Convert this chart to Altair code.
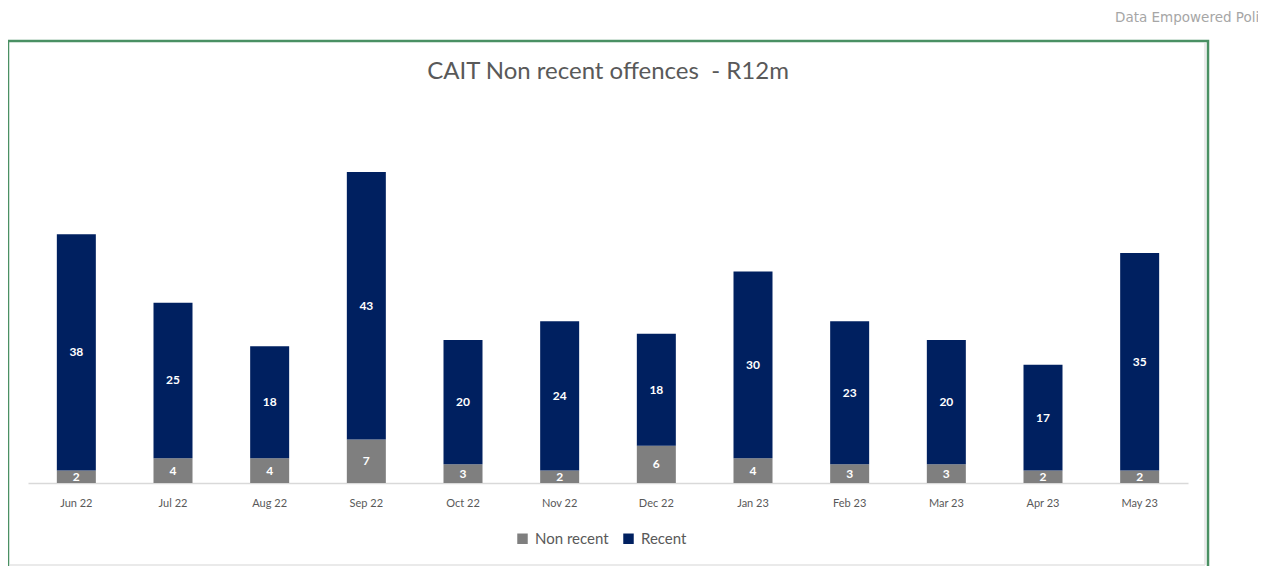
import altair as alt
import pandas as pd

months = ["Jun 22", "Jul 22", "Aug 22", "Sep 22", "Oct 22", "Nov 22",
          "Dec 22", "Jan 23", "Feb 23", "Mar 23", "Apr 23", "May 23"]
non_recent = [2, 4, 4, 7, 3, 2, 6, 4, 3, 3, 2, 2]
recent = [38, 25, 18, 43, 20, 24, 18, 30, 23, 20, 17, 35]
series = ["Non recent", "Recent"]
colors = ["#7f7f7f", "#002060"]

rows = []
for m, a, b in zip(months, non_recent, recent):
    rows.append({"month": m, "series": "Non recent", "order": 0, "value": a})
    rows.append({"month": m, "series": "Recent", "order": 1, "value": b})
df = pd.DataFrame(rows)

W, H = 1160, 342

x = alt.X("month:N", sort=months, title=None,
          scale=alt.Scale(paddingInner=0.6, paddingOuter=0.3),
          axis=alt.Axis(labelAngle=0, ticks=False, domainColor="#d9d9d9",
                        domainWidth=1.5, labelColor="#595959", labelFont="Lato",
                        labelFontSize=11, labelPadding=14, grid=False))
y = alt.Y("value:Q", stack="zero", title=None,
          scale=alt.Scale(domain=[0, 55], nice=False), axis=None)

base = alt.Chart(df)

bars = base.mark_bar(size=39).encode(
    x=x, y=y,
    color=alt.Color("series:N", sort=series,
                    scale=alt.Scale(domain=series, range=colors),
                    legend=alt.Legend(title=None, orient="none", direction="horizontal",
                                      legendX=487, legendY=390, symbolType="square",
                                      symbolSize=110, symbolStrokeWidth=0,
                                      labelFont="Lato", labelFontSize=15,
                                      labelColor="#595959", columnPadding=12,
                                      labelOffset=5)),
    order=alt.Order("order:Q"),
)

labels = base.mark_text(color="white", fontWeight="bold", fontSize=12,
                        font="Lato").encode(
    x=x,
    y=alt.Y("value:Q", stack="zero", bandPosition=0.5,
            scale=alt.Scale(domain=[0, 55], nice=False), axis=None),
    text=alt.Text("value:Q"),
    order=alt.Order("order:Q"),
)

frame = pd.DataFrame({"a": [0]})

inner_v = alt.Chart(frame).mark_rule(color="#e3e3e3", strokeWidth=1.5, clip=False).encode(
    x=alt.value(1177), y=alt.value(-98), y2=alt.value(424))
inner_h = alt.Chart(frame).mark_rule(color="#e3e3e3", strokeWidth=1.5, clip=False).encode(
    x=alt.value(-18), x2=alt.value(1177), y=alt.value(424))

box = alt.Chart(frame).mark_rect(
    fill=None, stroke="#4a9063", strokeWidth=2.5, clip=False
).encode(x=alt.value(-20), x2=alt.value(1180), y=alt.value(-100), y2=alt.value(450))

title = alt.Chart(pd.DataFrame({"t": ["CAIT Non recent offences \u00a0- R12m"]})).mark_text(
    font="Lato", fontSize=24, color="#595959", align="center", baseline="middle"
).encode(text="t:N", x=alt.value(580), y=alt.value(-69))

brand = alt.Chart(pd.DataFrame({"t": ["Data Empowered Policing"]})).mark_text(
    font="DejaVu Sans", fontSize=13.5, color="#a6a6a6", align="left", baseline="middle"
).encode(text="t:N", x=alt.value(1087), y=alt.value(-123))

chart = alt.layer(inner_v, inner_h, box, bars, labels, title, brand).properties(
    width=W, height=H,
    autosize=alt.AutoSizeParams(type="none"),
    padding={"left": 20, "top": 133, "right": 70, "bottom": 100},
).configure(background="white").configure_view(stroke=None)

chart.save("out.html", embed_options={"renderer": "svg", "actions": False})
